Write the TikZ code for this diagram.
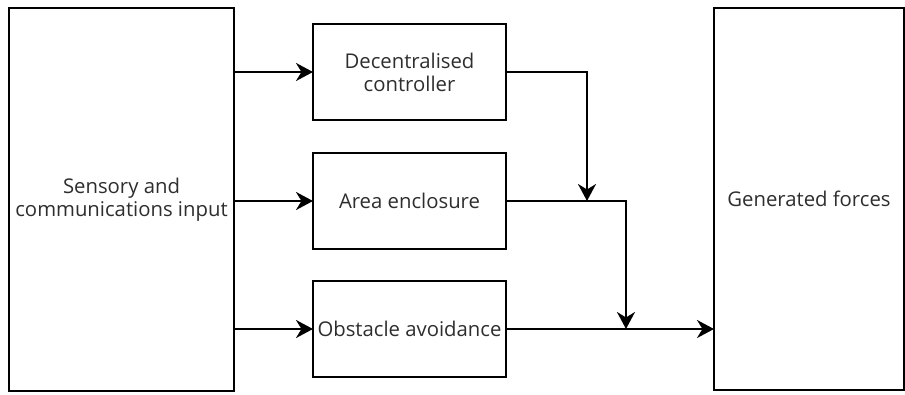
\documentclass[tikz,border=0pt]{standalone}
\usepackage{fontspec}
\setmainfont{Open Sans}
\usetikzlibrary{arrows.meta}
\definecolor{txt}{HTML}{2E2E2E}
\begin{document}
\begin{tikzpicture}[x=1pt,y=-1pt,
  box/.style={draw=black,line width=2.2pt,fill=white,outer sep=0pt,inner sep=0pt,
    text=txt,align=center,font=\fontsize{20.3}{23}\selectfont},
  conn/.style={line width=2.2pt,-{Stealth[length=17pt,width=18pt,inset=5.5pt]}}]
\useasboundingbox (0,0) rectangle (905,394);
\node[box,minimum width=225,minimum height=383] (inp) at (121.5,199.5) {Sensory and\\communications input};
\node[box,minimum width=193,minimum height=96] (dec) at (409.5,72) {Decentralised\\controller};
\node[box,minimum width=193,minimum height=96] (area) at (409.5,201) {Area enclosure};
\node[box,minimum width=193,minimum height=96] (obs) at (409.5,329) {Obstacle avoidance};
\node[box,minimum width=190,minimum height=382] (gen) at (809,199) {Generated forces};
\coordinate (j1) at (587,201);
\coordinate (j2) at (626,329);
\draw[conn] (inp.east |- dec.west) -- (dec.west);
\draw[conn] (inp.east |- area.west) -- (area.west);
\draw[conn] (inp.east |- obs.west) -- (obs.west);
\draw[conn] (dec.east) -| (j1);
\draw[conn] (area.east) -| (j2);
\draw[conn] (obs.east) -- (obs.east -| gen.west);
\end{tikzpicture}
\end{document}
